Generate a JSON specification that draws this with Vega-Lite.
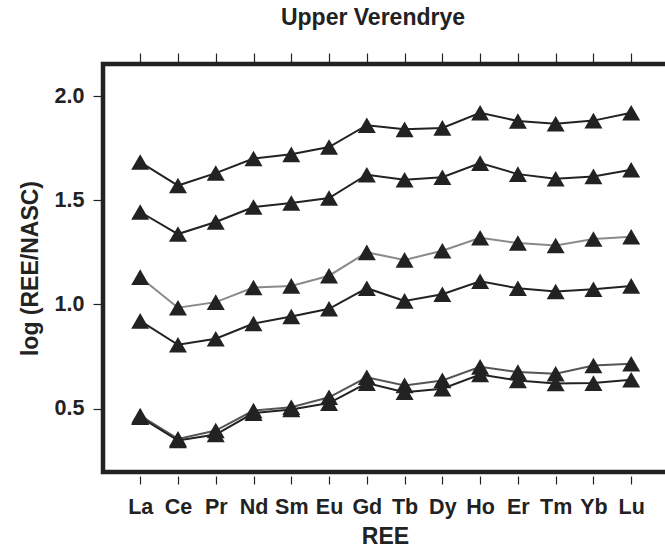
{
  "$schema": "https://vega.github.io/schema/vega-lite/v6.json",
  "width": 580,
  "height": 408,
  "autosize": {"type": "none"},
  "padding": {"left": 103, "top": 64, "right": 0, "bottom": 76},
  "background": "white",
  "title": {
    "text": "Upper Verendrye",
    "font": "Liberation Sans",
    "fontSize": 23,
    "fontWeight": "bold",
    "color": "#222222",
    "anchor": "middle",
    "baseline": "alphabetic",
    "offset": 4,
    "dx": -20
  },
  "config": {
    "view": {"stroke": "#222222", "strokeWidth": 4.5},
    "axis": {
      "domain": false,
      "grid": false,
      "tickColor": "#222222",
      "tickWidth": 1.2,
      "labelFont": "Liberation Sans",
      "labelFontWeight": "bold",
      "labelFontSize": 21.5,
      "labelColor": "#222222",
      "titleFont": "Liberation Sans",
      "titleFontWeight": "bold",
      "titleFontSize": 23,
      "titleColor": "#222222"
    }
  },
  "data": {
    "values": [
      {"s": "s1", "ree": "La", "v": 1.684}, {"s": "s1", "ree": "Ce", "v": 1.571}, {"s": "s1", "ree": "Pr", "v": 1.631}, {"s": "s1", "ree": "Nd", "v": 1.701}, {"s": "s1", "ree": "Sm", "v": 1.721}, {"s": "s1", "ree": "Eu", "v": 1.756}, {"s": "s1", "ree": "Gd", "v": 1.861}, {"s": "s1", "ree": "Tb", "v": 1.841}, {"s": "s1", "ree": "Dy", "v": 1.848}, {"s": "s1", "ree": "Ho", "v": 1.921}, {"s": "s1", "ree": "Er", "v": 1.881}, {"s": "s1", "ree": "Tm", "v": 1.868}, {"s": "s1", "ree": "Yb", "v": 1.883}, {"s": "s1", "ree": "Lu", "v": 1.921},
      {"s": "s2", "ree": "La", "v": 1.444}, {"s": "s2", "ree": "Ce", "v": 1.338}, {"s": "s2", "ree": "Pr", "v": 1.396}, {"s": "s2", "ree": "Nd", "v": 1.468}, {"s": "s2", "ree": "Sm", "v": 1.487}, {"s": "s2", "ree": "Eu", "v": 1.511}, {"s": "s2", "ree": "Gd", "v": 1.623}, {"s": "s2", "ree": "Tb", "v": 1.599}, {"s": "s2", "ree": "Dy", "v": 1.611}, {"s": "s2", "ree": "Ho", "v": 1.679}, {"s": "s2", "ree": "Er", "v": 1.626}, {"s": "s2", "ree": "Tm", "v": 1.604}, {"s": "s2", "ree": "Yb", "v": 1.615}, {"s": "s2", "ree": "Lu", "v": 1.647},
      {"s": "s3", "ree": "La", "v": 1.131}, {"s": "s3", "ree": "Ce", "v": 0.984}, {"s": "s3", "ree": "Pr", "v": 1.011}, {"s": "s3", "ree": "Nd", "v": 1.081}, {"s": "s3", "ree": "Sm", "v": 1.089}, {"s": "s3", "ree": "Eu", "v": 1.138}, {"s": "s3", "ree": "Gd", "v": 1.25}, {"s": "s3", "ree": "Tb", "v": 1.214}, {"s": "s3", "ree": "Dy", "v": 1.258}, {"s": "s3", "ree": "Ho", "v": 1.32}, {"s": "s3", "ree": "Er", "v": 1.295}, {"s": "s3", "ree": "Tm", "v": 1.283}, {"s": "s3", "ree": "Yb", "v": 1.314}, {"s": "s3", "ree": "Lu", "v": 1.325},
      {"s": "s4", "ree": "La", "v": 0.921}, {"s": "s4", "ree": "Ce", "v": 0.806}, {"s": "s4", "ree": "Pr", "v": 0.835}, {"s": "s4", "ree": "Nd", "v": 0.908}, {"s": "s4", "ree": "Sm", "v": 0.942}, {"s": "s4", "ree": "Eu", "v": 0.979}, {"s": "s4", "ree": "Gd", "v": 1.078}, {"s": "s4", "ree": "Tb", "v": 1.017}, {"s": "s4", "ree": "Dy", "v": 1.049}, {"s": "s4", "ree": "Ho", "v": 1.111}, {"s": "s4", "ree": "Er", "v": 1.078}, {"s": "s4", "ree": "Tm", "v": 1.062}, {"s": "s4", "ree": "Yb", "v": 1.073}, {"s": "s4", "ree": "Lu", "v": 1.089},
      {"s": "s5", "ree": "La", "v": 0.466}, {"s": "s5", "ree": "Ce", "v": 0.354}, {"s": "s5", "ree": "Pr", "v": 0.394}, {"s": "s5", "ree": "Nd", "v": 0.49}, {"s": "s5", "ree": "Sm", "v": 0.506}, {"s": "s5", "ree": "Eu", "v": 0.554}, {"s": "s5", "ree": "Gd", "v": 0.65}, {"s": "s5", "ree": "Tb", "v": 0.611}, {"s": "s5", "ree": "Dy", "v": 0.635}, {"s": "s5", "ree": "Ho", "v": 0.7}, {"s": "s5", "ree": "Er", "v": 0.675}, {"s": "s5", "ree": "Tm", "v": 0.667}, {"s": "s5", "ree": "Yb", "v": 0.707}, {"s": "s5", "ree": "Lu", "v": 0.715},
      {"s": "s6", "ree": "La", "v": 0.458}, {"s": "s6", "ree": "Ce", "v": 0.346}, {"s": "s6", "ree": "Pr", "v": 0.375}, {"s": "s6", "ree": "Nd", "v": 0.478}, {"s": "s6", "ree": "Sm", "v": 0.495}, {"s": "s6", "ree": "Eu", "v": 0.526}, {"s": "s6", "ree": "Gd", "v": 0.622}, {"s": "s6", "ree": "Tb", "v": 0.578}, {"s": "s6", "ree": "Dy", "v": 0.595}, {"s": "s6", "ree": "Ho", "v": 0.663}, {"s": "s6", "ree": "Er", "v": 0.635}, {"s": "s6", "ree": "Tm", "v": 0.62}, {"s": "s6", "ree": "Yb", "v": 0.622}, {"s": "s6", "ree": "Lu", "v": 0.638}
    ]
  },
  "encoding": {
    "y": {
      "field": "v",
      "type": "quantitative",
      "scale": {"domain": [0.195, 2.155], "nice": false, "zero": false},
      "axis": {
        "values": [0.5, 1.0, 1.5, 2.0],
        "format": ".1f",
        "offset": 2,
        "tickSize": 8,
        "labelPadding": 9,
        "title": "log (REE/NASC)",
        "titlePadding": 12
      }
    }
  },
  "layer": [
    {
      "mark": {"type": "line", "strokeWidth": 2},
      "encoding": {
        "x": {
          "field": "ree",
          "type": "ordinal",
          "sort": ["La", "Ce", "Pr", "Nd", "Sm", "Eu", "Gd", "Tb", "Dy", "Ho", "Er", "Tm", "Yb", "Lu"],
          "scale": {"type": "point", "padding": 0, "range": [37.2, 528.2]},
          "axis": {
            "orient": "bottom",
            "title": "REE",
            "titleX": 282,
            "labelAngle": 0,
            "labelOverlap": false,
            "offset": 4,
            "tickSize": 8,
            "labelPadding": 12,
            "titlePadding": 8
          }
        },
        "color": {
          "field": "s",
          "type": "nominal",
          "scale": {
            "domain": ["s1", "s2", "s3", "s4", "s5", "s6"],
            "range": ["#222222", "#222222", "#8a8a8a", "#222222", "#555555", "#222222"]
          },
          "legend": null
        }
      }
    },
    {
      "mark": {"type": "point", "shape": "triangle-up", "filled": true, "size": 324, "color": "#222222", "opacity": 1},
      "encoding": {
        "x": {
          "field": "ree",
          "type": "ordinal",
          "sort": ["La", "Ce", "Pr", "Nd", "Sm", "Eu", "Gd", "Tb", "Dy", "Ho", "Er", "Tm", "Yb", "Lu"],
          "scale": {"type": "point", "padding": 0, "range": [37.2, 528.2]},
          "axis": {
            "orient": "top",
            "labels": false,
            "title": null,
            "offset": 2,
            "tickSize": 9
          }
        },
        "detail": {"field": "s", "type": "nominal"}
      }
    }
  ],
  "resolve": {"axis": {"x": "independent"}}
}
